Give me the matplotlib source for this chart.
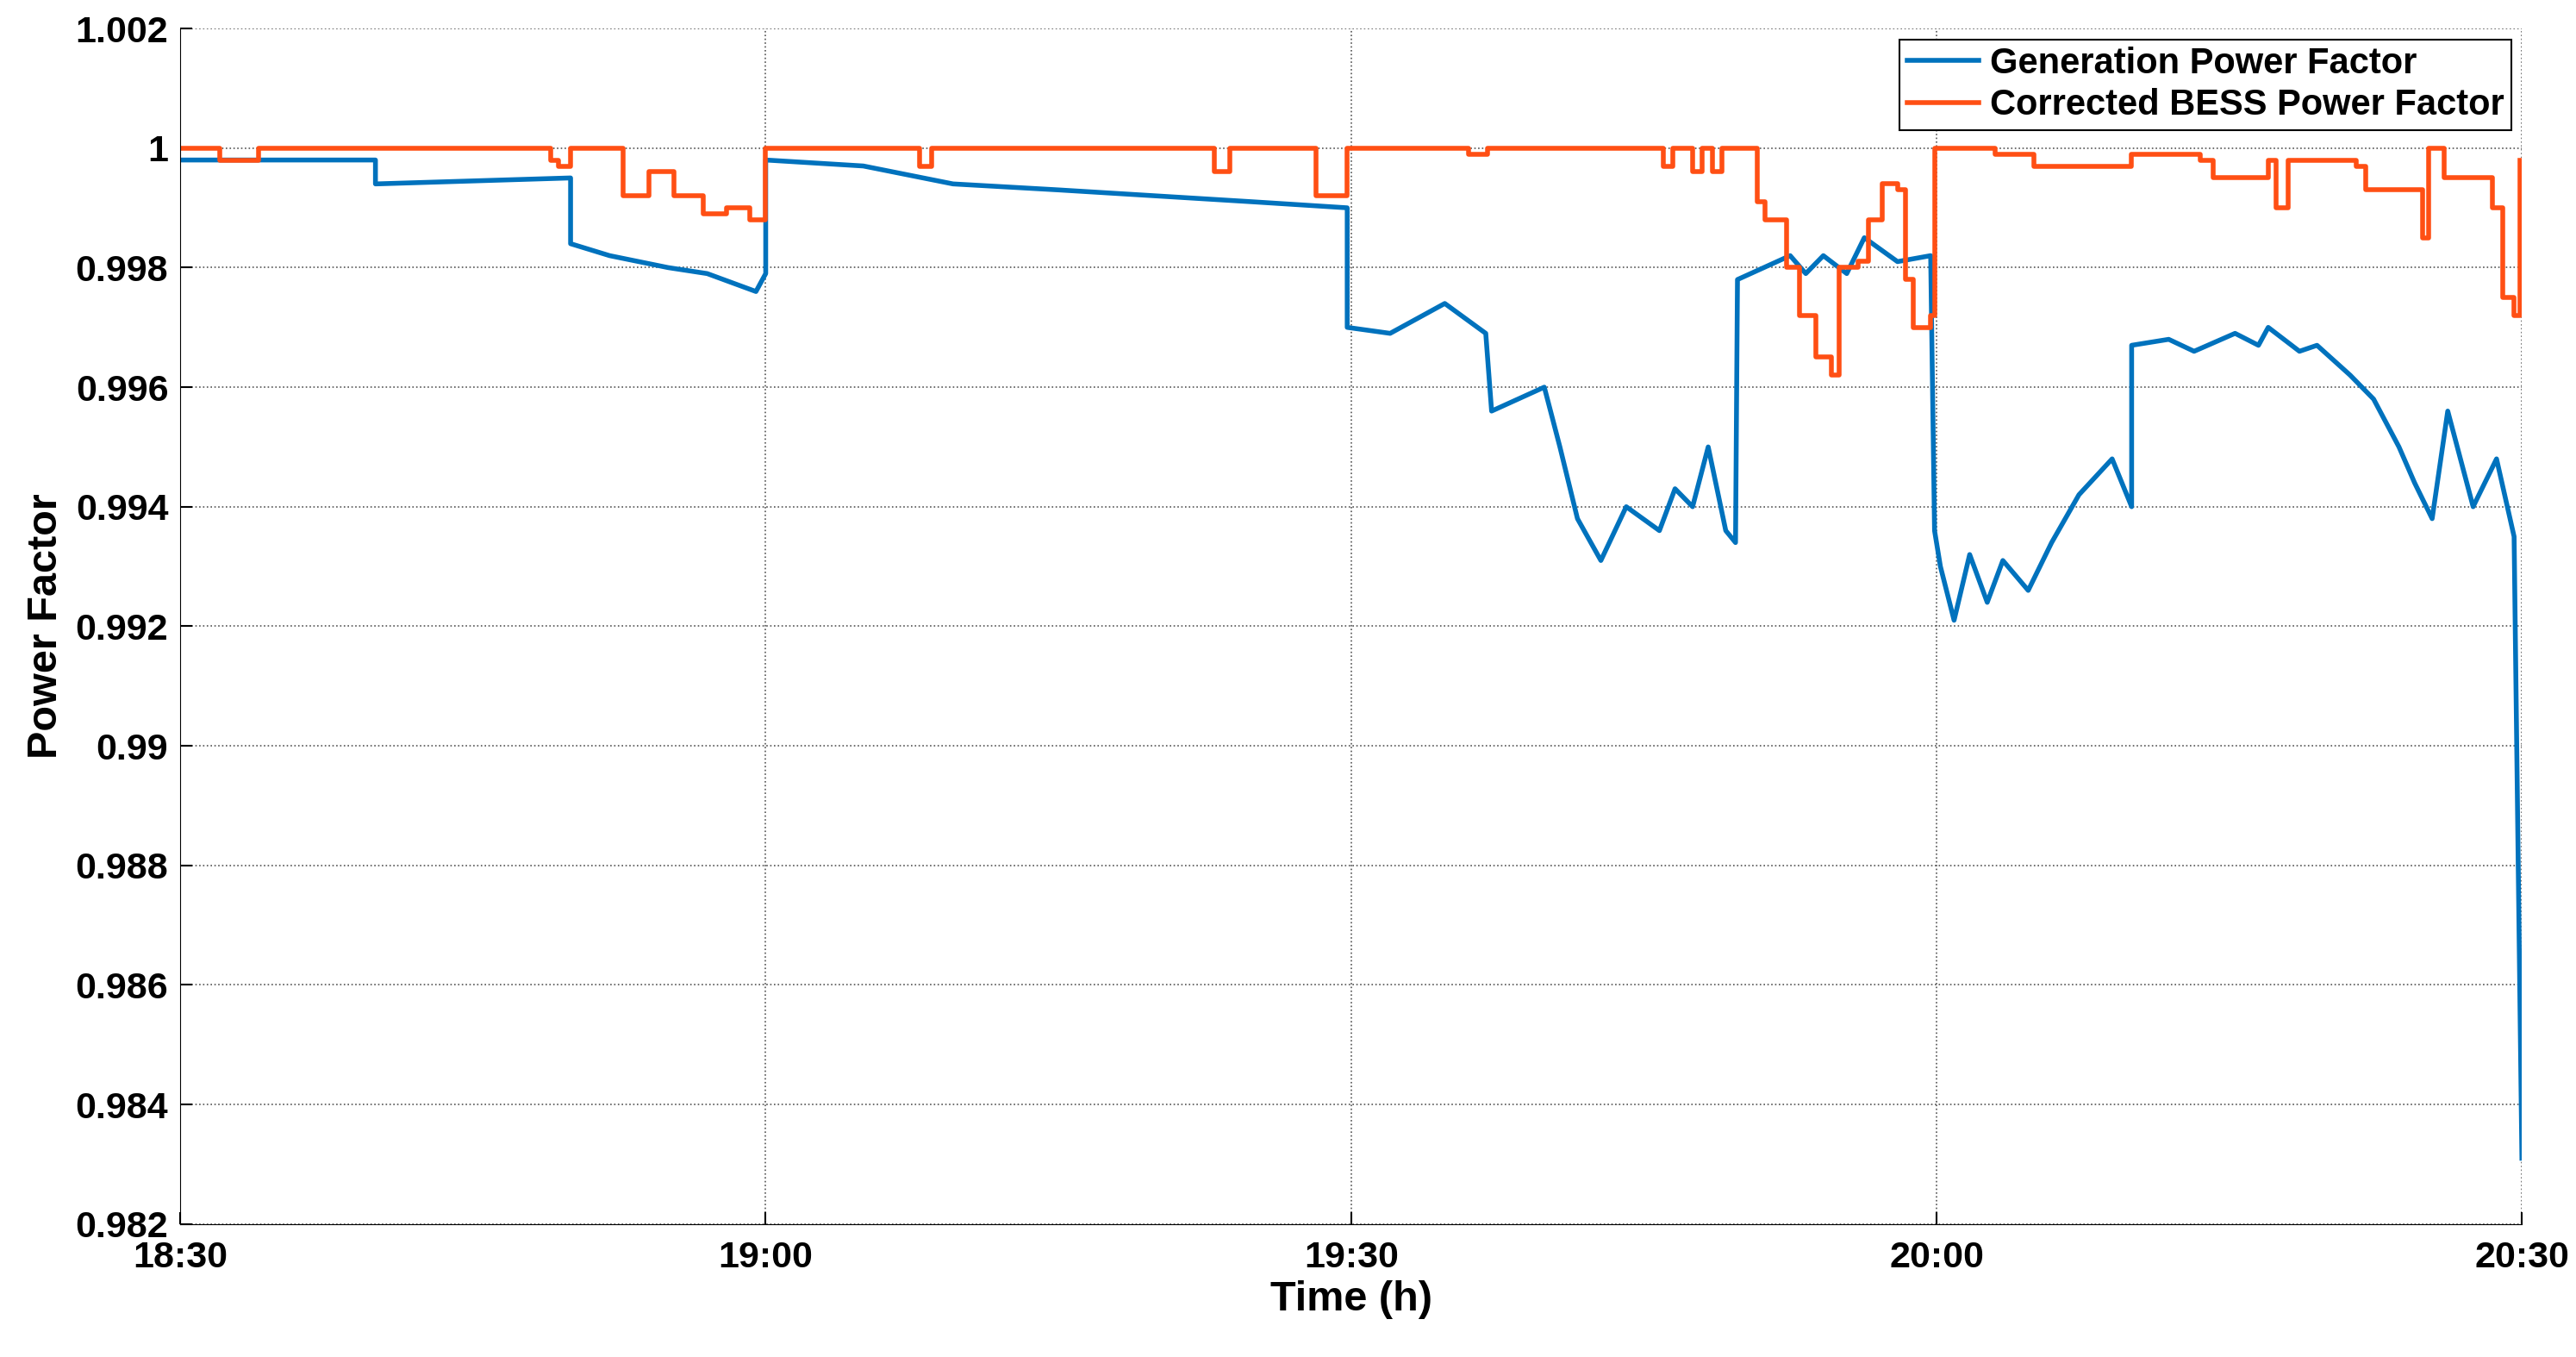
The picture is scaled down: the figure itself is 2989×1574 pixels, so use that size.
import matplotlib
matplotlib.use("Agg")
import matplotlib.pyplot as plt

# time in minutes after 18:30
gen_t = [0, 10, 10, 20, 20, 22, 25, 27, 29.5, 30, 30, 35, 39.6, 45, 50, 55, 59.8, 59.8, 62, 64.8, 66.9, 67.2, 69.9, 70.7, 71.6, 72.8, 74.1, 75.8, 76.6, 77.5, 78.3, 79.2, 79.7, 79.8,
         82.5, 83.3, 84.2, 85.4, 86.3, 88, 89.7, 89.9, 90.2, 90.9, 91.7, 92.6, 93.4, 94.7, 95.9, 97.3, 99, 100, 100, 101.9, 103.2, 105.3, 106.5, 107, 108.6, 109.5, 111.2, 112.4, 113.7, 114.5, 115.4, 116.2, 117.5, 118.7, 119.6, 120]
gen_v = [0.9998, 0.9998, 0.9994, 0.9995, 0.9984, 0.9982, 0.9980, 0.9979, 0.9976, 0.9979, 0.9998, 0.9997, 0.9994, 0.9993, 0.9992, 0.9991, 0.9990, 0.9970, 0.9969, 0.9974, 0.9969, 0.9956, 0.9960, 0.9950, 0.9938, 0.9931, 0.9940, 0.9936, 0.9943, 0.9940, 0.9950, 0.9936, 0.9934, 0.9978,
         0.9982, 0.9979, 0.9982, 0.9979, 0.9985, 0.9981, 0.9982, 0.9936, 0.9930, 0.9921, 0.9932, 0.9924, 0.9931, 0.9926, 0.9934, 0.9942, 0.9948, 0.9940, 0.9967, 0.9968, 0.9966, 0.9969, 0.9967, 0.9970, 0.9966, 0.9967, 0.9962, 0.9958, 0.9950, 0.9944, 0.9938, 0.9956, 0.9940, 0.9948, 0.9935, 0.9831]

bess_t = [0, 2, 4, 19, 19.4, 20, 22.7, 24, 25.3, 26, 26.8, 28, 29.2, 30, 37.5, 37.9, 38.5, 53, 53.8, 58.2, 59.8, 66, 67, 76, 76.5, 77.5, 78, 78.5, 79, 80.8, 81.2, 82.3, 83, 83.8, 84.6, 85, 86, 86.5, 87.2, 88, 88.4, 88.8, 89.7,
          89.9, 93, 95, 100, 103.5, 104.2, 107, 107.4, 108, 111.5, 112, 114, 114.9, 115.2, 116, 117, 118.5, 119, 119.6, 119.9]
bess_v = [1.0000, 0.9998, 1.0000, 0.9998, 0.9997, 1.0000, 0.9992, 0.9996, 0.9992, 0.9992, 0.9989, 0.9990, 0.9988, 1.0000, 1.0000, 0.9997, 1.0000, 0.9996, 1.0000, 0.9992, 1.0000, 0.9999, 1.0000, 0.9997, 1.0000, 0.9996, 1.0000, 0.9996, 1.0000, 0.9991, 0.9988, 0.9980, 0.9972, 0.9965, 0.9962, 0.9980, 0.9981, 0.9988, 0.9994, 0.9993, 0.9978, 0.9970, 0.9972,
          1.0000, 0.9999, 0.9997, 0.9999, 0.9998, 0.9995, 0.9998, 0.9990, 0.9998, 0.9997, 0.9993, 0.9993, 0.9985, 1.0000, 0.9995, 0.9995, 0.9990, 0.9975, 0.9972, 0.9998]

xticks = [0, 30, 60, 90, 120]
xlabels = ["18:30", "19:00", "19:30", "20:00", "20:30"]
yticks = [0.982, 0.984, 0.986, 0.988, 0.99, 0.992, 0.994, 0.996, 0.998, 1, 1.002]
ylabels = ["0.982", "0.984", "0.986", "0.988", "0.99", "0.992", "0.994", "0.996", "0.998", "1", "1.002"]

plt.rcParams['font.family'] = ['Liberation Sans', 'DejaVu Sans']
plt.rcParams['font.weight'] = 'bold'
fig = plt.figure(figsize=(29.89, 15.74), dpi=100)
ax = fig.add_axes([0.070, 0.098, 0.909, 0.881])
ax.plot(gen_t, gen_v, color='#0072BD', lw=4, label='Generation Power Factor')
ax.plot(bess_t, bess_v, color='#FF4F14', lw=4, drawstyle='steps-post', label='Corrected BESS Power Factor')
ax.set_xlim(0, 120)
ax.set_ylim(0.982, 1.002)
ax.set_xticks(xticks, xlabels)
ax.set_yticks(yticks, ylabels)
ax.tick_params(labelsize=31, direction='in', length=10, width=1.5)
ax.tick_params(axis='x', pad=14)
ax.tick_params(axis='y', pad=10)
ax.grid(True, linestyle=':', color='#555555', lw=1.2)
for s in ['top', 'right']:
    ax.spines[s].set_visible(False)
ax.set_xlabel('Time (h)', fontsize=35, fontweight='bold', labelpad=4)
ax.set_ylabel('Power Factor', fontsize=35, fontweight='bold', labelpad=8)
leg = ax.legend(loc='upper right', fontsize=30, fancybox=False, edgecolor='black',
                handlelength=2.0, handletextpad=0.3, borderpad=0.2, labelspacing=0.2,
                borderaxespad=0.3, framealpha=1)
leg.get_frame().set_linewidth(1.5)
fig.savefig('out.png', dpi=100)
